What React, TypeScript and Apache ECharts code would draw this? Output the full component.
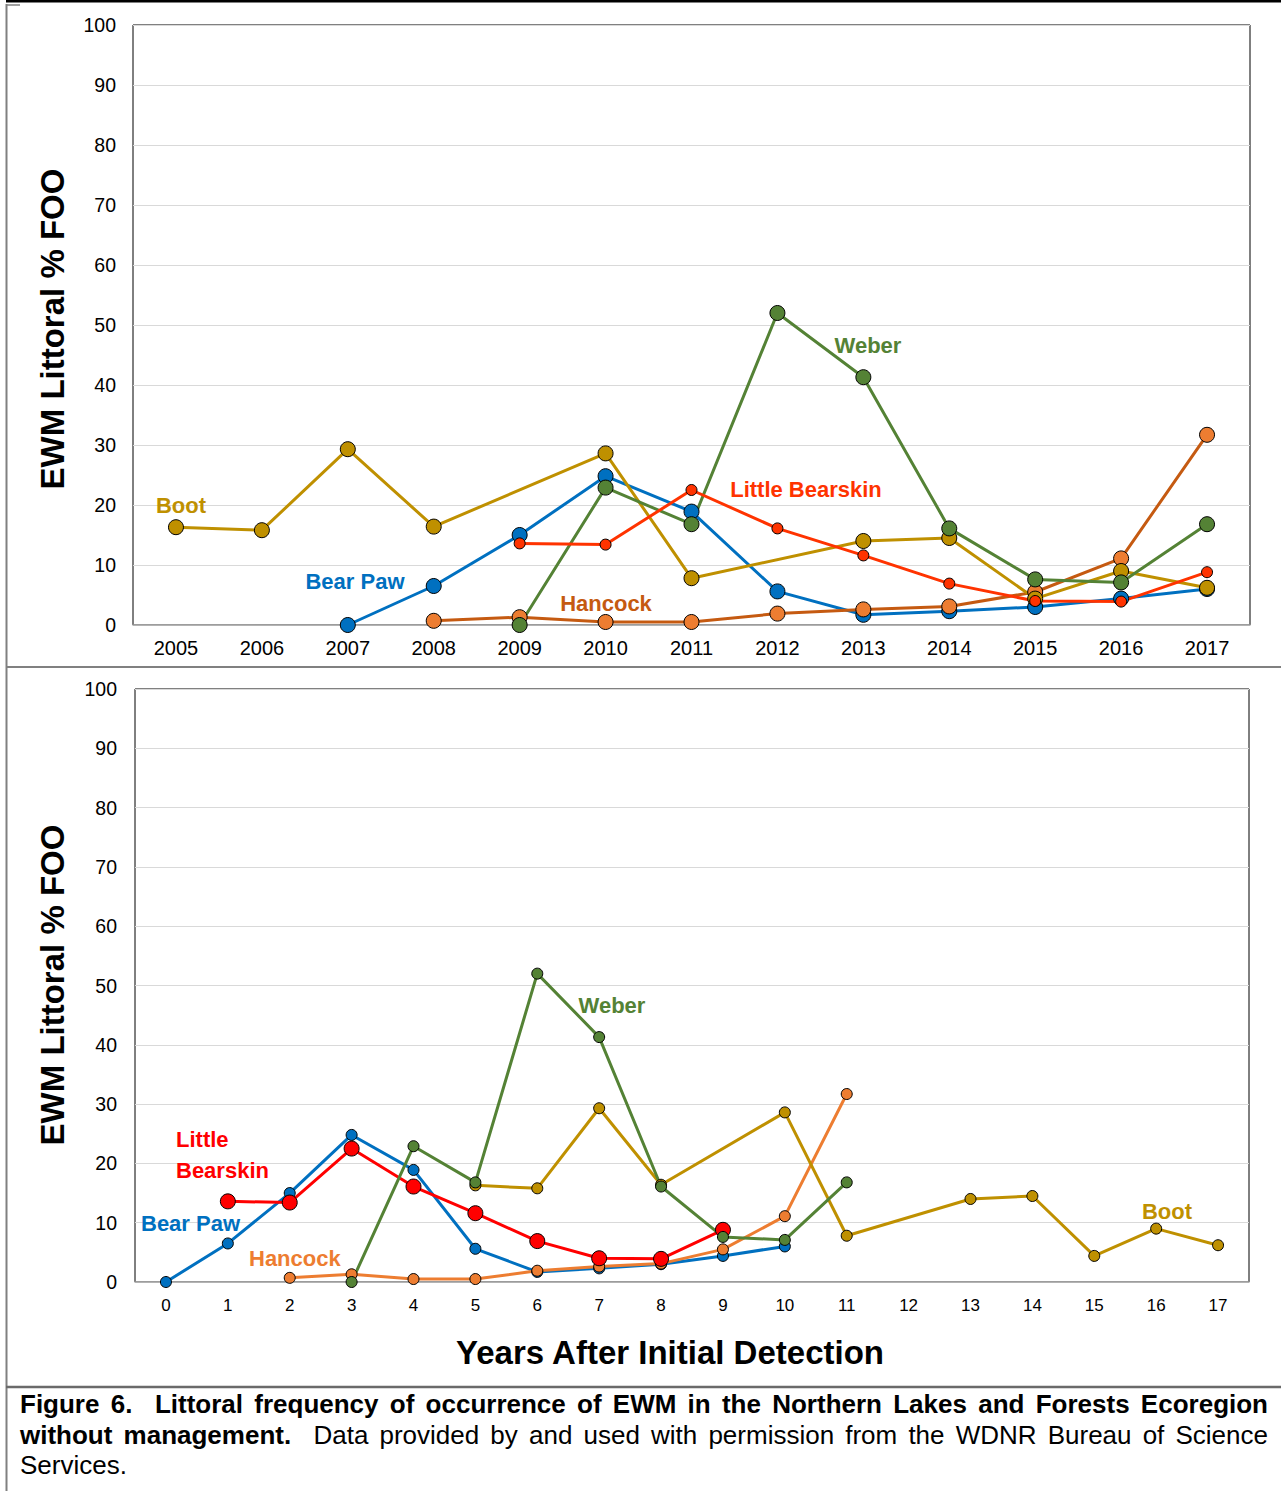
import React, { useEffect, useRef } from "react";
import * as echarts from "echarts";

// ---------- data ----------
const topYears = ["2005", "2006", "2007", "2008", "2009", "2010", "2011", "2012", "2013", "2014", "2015", "2016", "2017"];
const bottomYears = ["0", "1", "2", "3", "4", "5", "6", "7", "8", "9", "10", "11", "12", "13", "14", "15", "16", "17"];
const yTicks = { min: 0, max: 100, interval: 10 };

// first sampled year, year of initial detection, values (% FOO) from the first sampled year on
const bootFirstYear = 2005;
const bootDetected = 2000;
const bootValues = [16.3, 15.8, 29.3, 16.4, null, 28.6, 7.8, null, 14.0, 14.5, 4.4, 9.0, 6.2];

const bearPawFirstYear = 2007;
const bearPawDetected = 2007;
const bearPawValues = [0, 6.5, 15.0, 24.8, 18.9, 5.6, 1.7, 2.3, 3.0, 4.4, 6.0];

const hancockFirstYear = 2008;
const hancockDetected = 2006;
const hancockValues = [0.7, 1.3, 0.5, 0.5, 1.9, 2.6, 3.1, 5.5, 11.1, 31.7];

const weberFirstYear = 2009;
const weberDetected = 2006;
const weberValues = [0, 22.9, 16.8, 52.0, 41.3, 16.1, 7.6, 7.1, 16.8];

const littleBearskinFirstYear = 2009;
const littleBearskinDetected = 2008;
const littleBearskinValues = [13.6, 13.4, 22.5, 16.1, 11.6, 6.9, 4.0, 3.9, 8.8];

// ---------- helpers ----------
function pad(start: number, values: (number | null)[], len: number) {
  const out: (number | null)[] = [];
  for (let i = 0; i < len; i++) {
    const j = i - start;
    out.push(j >= 0 && j < values.length ? values[j] : null);
  }
  return out;
}

const FONT = '"Liberation Sans", Arial, sans-serif';
const C = {
  boot: "#BF9000",
  bearPaw: "#0070C0",
  hancockDark: "#C55A11",
  hancock: "#ED7D31",
  weber: "#548235",
  lbTop: "#FF3300",
  lbBottom: "#FF0000",
};

function lineSeries(
  name: string,
  data: (number | null)[],
  idx: number,
  lineColor: string,
  markerColor: string,
  size: number
) {
  return {
    type: "line",
    name,
    xAxisIndex: idx,
    yAxisIndex: idx,
    data,
    connectNulls: true,
    symbol: "circle",
    symbolSize: size,
    showSymbol: true,
    showAllSymbol: true,
    lineStyle: { color: lineColor, width: 3 },
    itemStyle: { color: markerColor, borderColor: "#000", borderWidth: 1 },
    emphasis: { disabled: true },
  };
}

function label(text: string, x: number, y: number, color: string, align = "center") {
  return {
    type: "text",
    x,
    y,
    z: 100,
    style: {
      text,
      fill: color,
      fontSize: 22,
      fontWeight: "bold",
      fontFamily: FONT,
      align,
      textAlign: align,
      verticalAlign: "middle",
      textVerticalAlign: "middle",
    },
  };
}

function hline(x1: number, x2: number, y: number, color: string, w: number) {
  return { type: "line", shape: { x1, y1: y, x2, y2: y }, style: { stroke: color, lineWidth: w }, z: 100 };
}

function title(text: string, x: number, y: number, rotate: boolean) {
  return {
    type: "text",
    x,
    y,
    rotation: rotate ? Math.PI / 2 : 0,
    z: 100,
    style: {
      text,
      fill: "#000",
      fontSize: 33,
      fontWeight: "bold",
      fontFamily: FONT,
      align: "center",
      textAlign: "center",
      verticalAlign: "middle",
      textVerticalAlign: "middle",
    },
  };
}

export default function App() {
  const ref = useRef<HTMLDivElement>(null);

  useEffect(() => {
    if (!ref.current) return;
    const chart = echarts.init(ref.current, undefined, { renderer: "svg" });
    const nT = topYears.length;
    const nB = bottomYears.length;

    const yAxisBase = {
      type: "value",
      min: yTicks.min,
      max: yTicks.max,
      interval: yTicks.interval,
      axisLine: { show: false },
      axisTick: { show: false },
      splitLine: { show: true, lineStyle: { color: "#D9D9D9", width: 1 } },
    };

    const option: any = {
      animation: false,
      backgroundColor: "#fff",
      grid: [
        { left: 133, top: 25, width: 1117, height: 600, show: true, borderColor: "#000", borderWidth: 1, backgroundColor: "transparent" },
        { left: 135, top: 689, width: 1114, height: 593, show: true, borderColor: "#000", borderWidth: 1, backgroundColor: "transparent" },
      ],
      xAxis: [
        {
          type: "category",
          gridIndex: 0,
          data: topYears,
          boundaryGap: true,
          axisTick: { show: false },
          axisLine: { show: true, lineStyle: { color: "#A6A6A6", width: 1.5 } },
          axisLabel: { color: "#000", fontSize: 20, fontFamily: FONT, margin: 13, interval: 0 },
        },
        {
          type: "category",
          gridIndex: 1,
          data: bottomYears,
          boundaryGap: true,
          axisTick: { show: false },
          axisLine: { show: true, lineStyle: { color: "#A6A6A6", width: 1.5 } },
          axisLabel: { color: "#000", fontSize: 17, fontFamily: FONT, margin: 15, interval: 0 },
        },
      ],
      yAxis: [
        { ...yAxisBase, gridIndex: 0, axisLabel: { color: "#000", fontSize: 19.5, fontFamily: FONT, margin: 17 } },
        { ...yAxisBase, gridIndex: 1, axisLabel: { color: "#000", fontSize: 19.5, fontFamily: FONT, margin: 18 } },
      ],
      series: [
        // top: calendar years
        lineSeries("Bear Paw", pad(bearPawFirstYear - 2005, bearPawValues, nT), 0, C.bearPaw, C.bearPaw, 15),
        lineSeries("Hancock", pad(hancockFirstYear - 2005, hancockValues, nT), 0, C.hancockDark, C.hancock, 15),
        lineSeries("Boot", pad(bootFirstYear - 2005, bootValues, nT), 0, C.boot, C.boot, 15),
        lineSeries("Weber", pad(weberFirstYear - 2005, weberValues, nT), 0, C.weber, C.weber, 15),
        lineSeries("Little Bearskin", pad(littleBearskinFirstYear - 2005, littleBearskinValues, nT), 0, C.lbTop, C.lbTop, 11),
        // bottom: years after initial detection
        lineSeries("Bear Paw", pad(bearPawFirstYear - bearPawDetected, bearPawValues, nB), 1, C.bearPaw, C.bearPaw, 11),
        lineSeries("Hancock", pad(hancockFirstYear - hancockDetected, hancockValues, nB), 1, C.hancock, C.hancock, 11),
        lineSeries("Boot", pad(bootFirstYear - bootDetected, bootValues, nB), 1, C.boot, C.boot, 11),
        lineSeries("Little Bearskin", pad(littleBearskinFirstYear - littleBearskinDetected, littleBearskinValues, nB), 1, C.lbBottom, C.lbBottom, 15),
        lineSeries("Weber", pad(weberFirstYear - weberDetected, weberValues, nB), 1, C.weber, C.weber, 11),
      ],
      graphic: [
        // frame lines
        hline(6, 1281, 1, "#000", 3),
        hline(6, 20, 5, "#808080", 1.5),
        { type: "line", shape: { x1: 6.5, y1: 4, x2: 6.5, y2: 1491 }, style: { stroke: "#808080", lineWidth: 2 }, z: 100 },
        hline(6, 1281, 667, "#808080", 2),
        hline(6, 1281, 1387, "#6A6A6A", 2.5),
        // axis titles
        title("EWM Littoral % FOO", 52, 329, true),
        title("EWM Littoral % FOO", 52, 985, true),
        title("Years After Initial Detection", 670, 1352, false),
        // series labels, top
        label("Boot", 181, 505, C.boot),
        label("Bear Paw", 355, 581, C.bearPaw),
        label("Hancock", 606, 603, C.hancockDark),
        label("Little Bearskin", 806, 489, C.lbTop),
        label("Weber", 868, 345, C.weber),
        // series labels, bottom
        label("Little", 176, 1139, C.lbBottom, "left"),
        label("Bearskin", 176, 1170, C.lbBottom, "left"),
        label("Bear Paw", 141, 1223, C.bearPaw, "left"),
        label("Hancock", 249, 1258, C.hancock, "left"),
        label("Weber", 612, 1005, C.weber),
        label("Boot", 1167, 1211, C.boot),
      ],
    };

    chart.setOption(option);
    return () => chart.dispose();
  }, []);

  return (
    <div style={{ position: "absolute", left: 0, top: 0, width: 1281, height: 1491, background: "#fff" }}>
      <div ref={ref} style={{ position: "absolute", left: 0, top: 0, width: 1281, height: 1491 }} />
      <div
        style={{
          position: "absolute",
          left: 20,
          top: 1389,
          width: 1248,
          fontFamily: FONT,
          fontSize: 26,
          lineHeight: "30.5px",
          color: "#000",
        }}
      >
        <div style={{ textAlign: "justify", textAlignLast: "justify" }}>
          <b>Figure 6.{"\u00a0 "}Littoral frequency of occurrence of EWM in the Northern Lakes and Forests Ecoregion</b>
        </div>
        <div style={{ textAlign: "justify", textAlignLast: "justify" }}>
          <b>without management.</b>
          {"\u00a0 "}Data provided by and used with permission from the WDNR Bureau of Science
        </div>
        <div>Services.</div>
      </div>
    </div>
  );
}
